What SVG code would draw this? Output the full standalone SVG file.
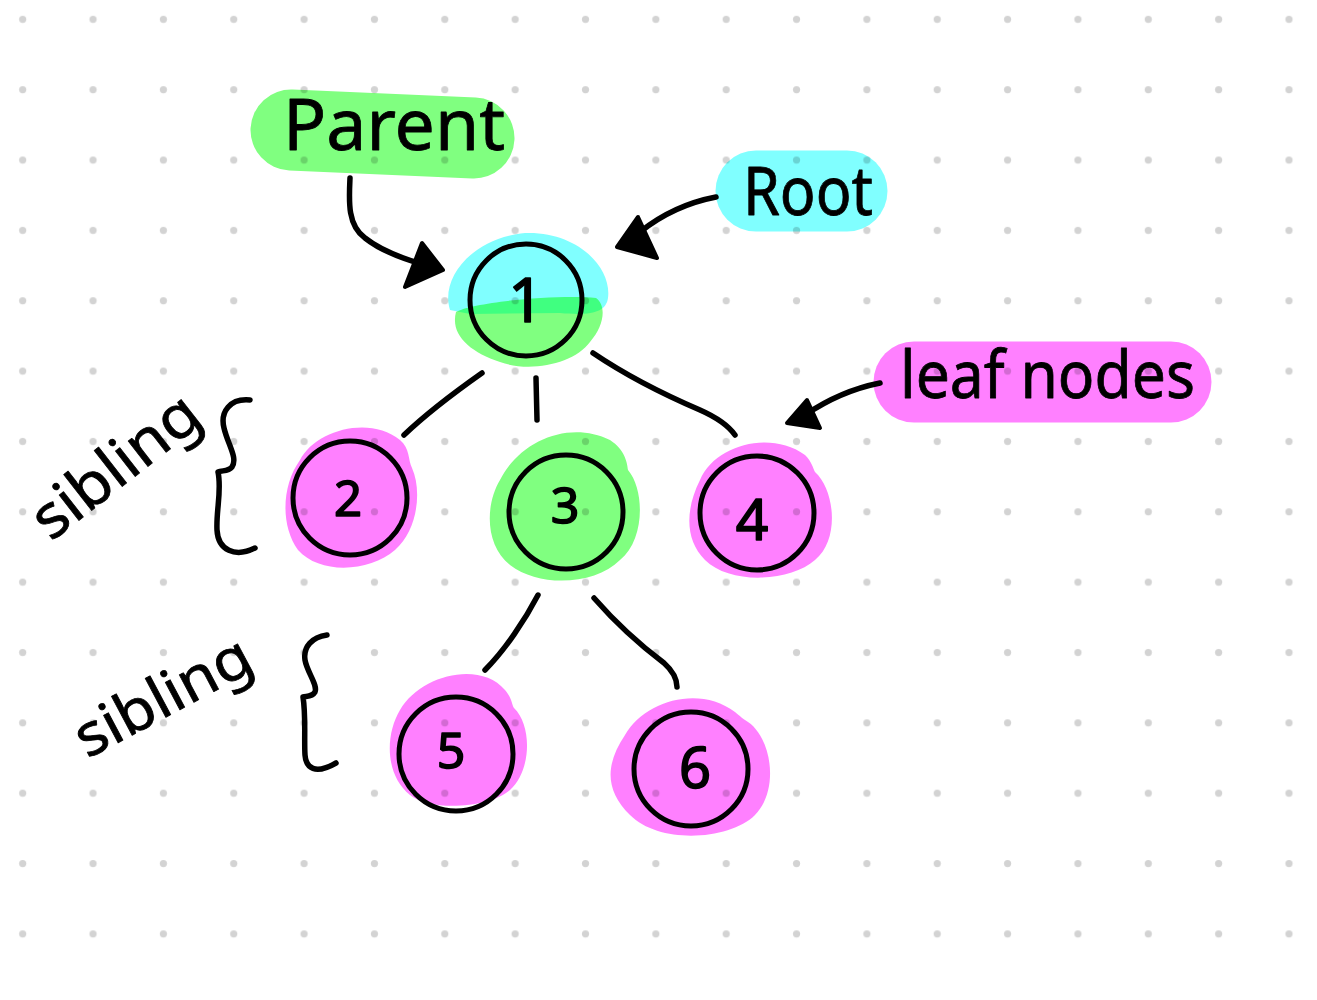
<svg xmlns="http://www.w3.org/2000/svg" width="1317" height="1000" viewBox="0 0 1317 1000">
<style>
.hl{mix-blend-mode:multiply}
.g{fill:#80ff80}
.c{fill:#80ffff}
.p{fill:#ff80ff}
.ring{fill:none;stroke:#000;stroke-width:5}
.num{font-family:"Noto Sans","DejaVu Sans",sans-serif;fill:#000;stroke:#000;stroke-width:1.6;stroke-linejoin:round;text-anchor:middle}
.lbl{font-family:"Noto Sans","DejaVu Sans",sans-serif;fill:#000;stroke:#000;stroke-width:0.8;stroke-linejoin:round}
.ln{fill:none;stroke:#000;stroke-width:5.5;stroke-linecap:round;stroke-linejoin:round}
.ah{fill:#000;stroke:#000;stroke-width:4;stroke-linejoin:round}
.pill{fill:none;stroke-linecap:round;stroke-width:81}
</style>
<defs>
<pattern id="dots" patternUnits="userSpaceOnUse" x="-12.5" y="-15.9" width="70.35" height="70.35">
<circle cx="35.2" cy="35.2" r="3.6" fill="#d3d3d3"/>
</pattern>
</defs>
<rect width="1317" height="1000" fill="#fff"/>
<rect width="1317" height="1000" fill="url(#dots)"/>

<g id="node-1">
<path class="hl c" d="M450 310 C440 278 472 238 525 233 C578 231 612 268 608 298 C606 312 592 316 560 313 L470 314 Z"/>
<path class="hl g" d="M456 312 C472 302 560 294 596 298 C607 306 604 326 590 342 C574 364 530 373 500 362 C470 352 450 335 456 312 Z"/>
<circle class="ring" cx="526" cy="300" r="56"/>
<text class="num" x="526" y="322" font-size="62">1</text>
</g>
<g id="node-2">
<path class="hl p" d="M300 460 C315 430 370 415 400 440 C410 448 408 460 412 468 C422 490 418 530 395 550 C370 572 320 575 298 550 C280 525 282 485 300 460 Z"/>
<circle class="ring" cx="350" cy="498" r="57"/>
<text class="num" x="348" y="516" font-size="49">2</text>
</g>
<g id="node-3">
<path class="hl g" d="M500 480 C520 440 570 420 610 440 C625 450 627 462 628 470 C645 490 645 540 620 560 C595 585 540 588 510 565 C485 545 485 505 500 480 Z"/>
<circle class="ring" cx="566" cy="512" r="57"/>
<text class="num" x="565" y="523" font-size="50">3</text>
</g>
<g id="node-4">
<path class="hl p" d="M700 480 C715 445 770 430 805 455 C812 462 813 468 815 472 C835 490 840 540 815 560 C790 582 730 585 705 560 C685 540 685 510 700 480 Z"/>
<circle class="ring" cx="757" cy="513" r="57"/>
<text class="num" x="752" y="540" font-size="57">4</text>
</g>
<g id="node-5">
<path class="hl p" d="M400 710 C420 675 480 660 505 690 C512 698 512 705 514 708 C532 725 532 770 510 790 C490 808 430 812 410 795 C385 775 385 735 400 710 Z"/>
<circle class="ring" cx="456" cy="754" r="57"/>
<text class="num" x="451" y="768" font-size="50">5</text>
</g>
<g id="node-6">
<path class="hl p" d="M625 735 C645 700 700 685 735 712 C740 716 742 718 745 720 C772 735 780 790 755 815 C730 840 660 845 630 815 C605 790 605 765 625 735 Z"/>
<circle class="ring" cx="691" cy="769" r="57"/>
<text class="num" x="695" y="788" font-size="56">6</text>
</g>

<g id="label-parent">
<path class="hl pill" stroke="#80ff80" d="M291 130 L474 138"/>
<text class="lbl" x="283" y="150" font-size="72" textLength="222" lengthAdjust="spacingAndGlyphs">Parent</text>
</g>
<g id="label-root">
<path class="hl pill" stroke="#80ffff" d="M756 191 L847 191"/>
<text class="lbl" x="743" y="215" font-size="67" textLength="130" lengthAdjust="spacingAndGlyphs">Root</text>
</g>
<g id="label-leaf">
<path class="hl pill" stroke="#ff80ff" d="M914 382 L1171 382"/>
<text class="lbl" x="900" y="398" font-size="66" textLength="295" lengthAdjust="spacingAndGlyphs">leaf nodes</text>
</g>
<g id="label-sibling-1">
<text class="lbl" transform="translate(128,482) rotate(-38)" text-anchor="middle" font-size="60" textLength="196" lengthAdjust="spacingAndGlyphs">sibling</text>
<path class="ln" d="M250 400 C230 398 220 412 224 428 C228 445 238 458 232 467 C228 472 222 470 218 472 C222 490 216 510 217 530 C218 550 235 558 255 548"/>
</g>
<g id="label-sibling-2">
<text class="lbl" transform="translate(172,714) rotate(-28)" text-anchor="middle" font-size="58" textLength="192" lengthAdjust="spacingAndGlyphs">sibling</text>
<path class="ln" d="M327 635 C312 637 303 647 305 660 C307 672 318 685 315 692 C312 697 307 696 303 697 C306 715 304 740 305 755 C306 768 315 775 336 763"/>
</g>

<g id="connectors">
<path class="ln" d="M482 373 C455 392 425 415 404 435"/>
<path class="ln" d="M536 378 L537 420"/>
<path class="ln" d="M593 353 C630 378 665 395 700 410 C718 418 728 425 735 435"/>
<path class="ln" d="M538 595 C525 620 505 650 485 670"/>
<path class="ln" d="M594 598 C615 622 640 645 664 663 C674 672 677 680 677 687"/>
<path class="ln" d="M350 178 C349 200 347 225 365 238 C380 250 400 258 425 265"/>
<polygon class="ah" points="443,270 422,243 405,287"/>
<path class="ln" d="M716 197 C690 202 665 212 640 232"/>
<polygon class="ah" points="617,247 638,217 657,258"/>
<path class="ln" d="M880 383 C855 388 830 398 805 415"/>
<polygon class="ah" points="787,423 807,400 820,428"/>
</g>
</svg>
